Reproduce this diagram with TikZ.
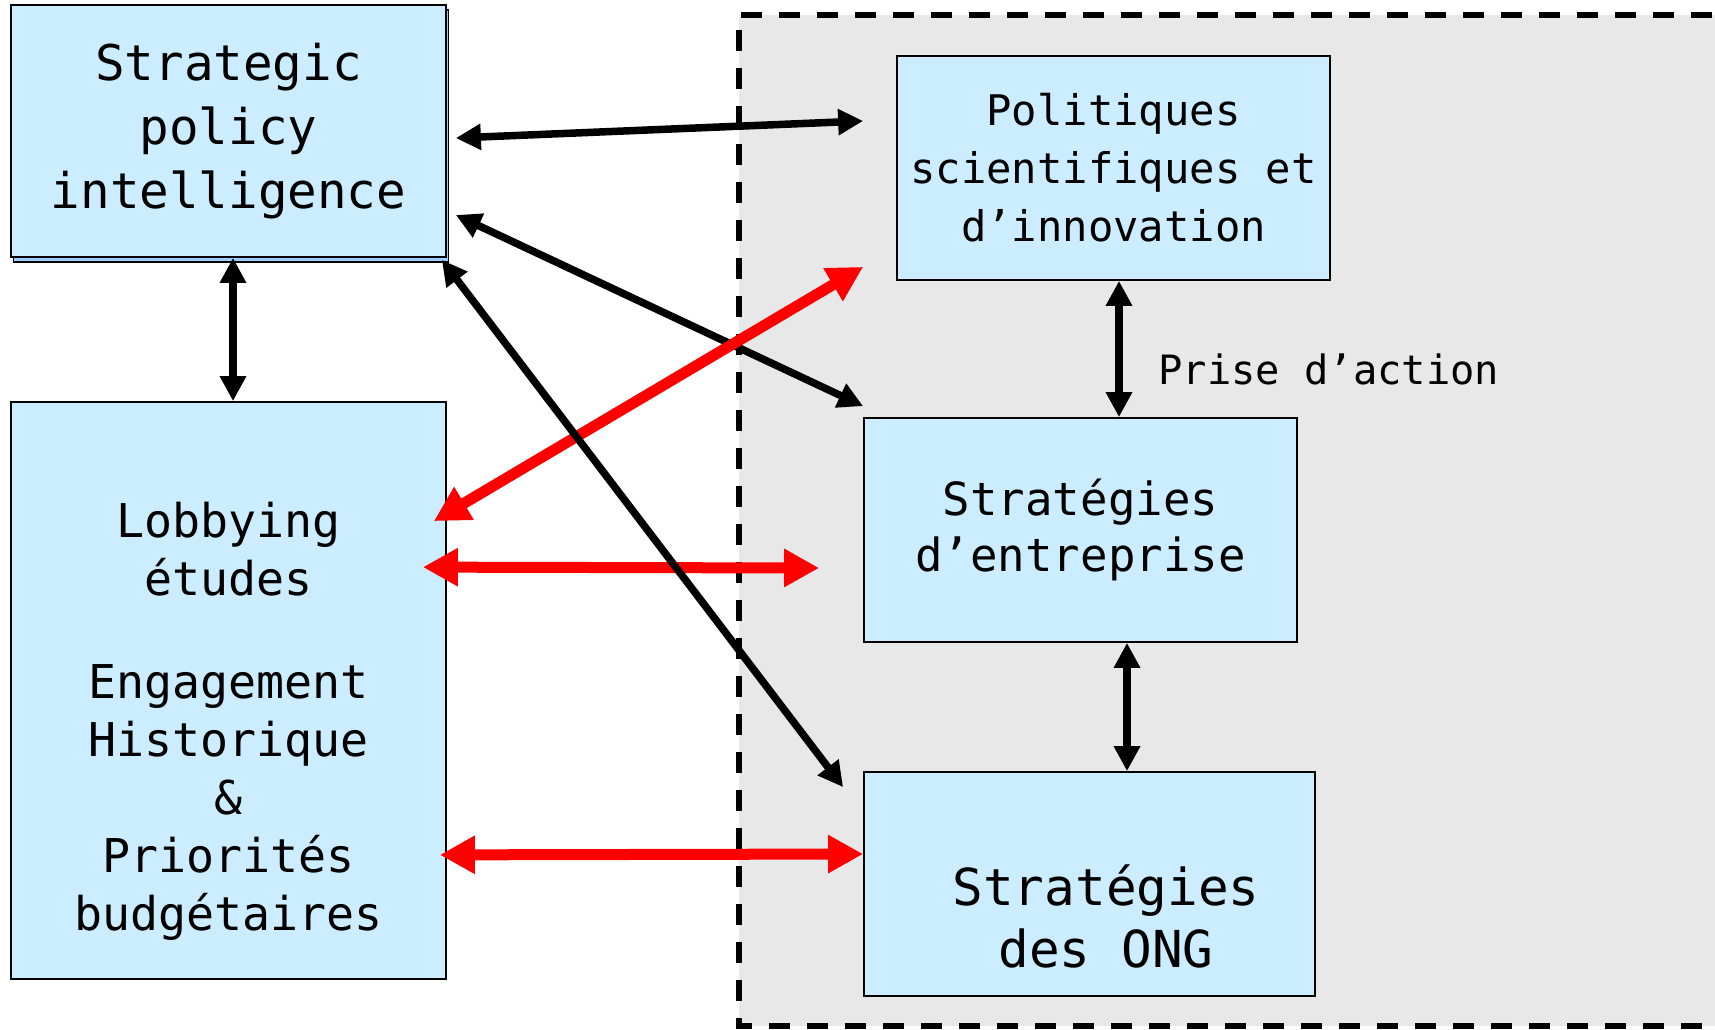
\documentclass[tikz,border=0pt]{standalone}
\usepackage{fontspec}
\newfontfamily\boxfont{DejaVu Sans Mono}
\usepackage{xcolor}
\definecolor{minimal-blue}{HTML}{CCECFF}
\definecolor{minimal-shadow}{HTML}{99CCFF}
\definecolor{minimal-grey}{HTML}{E8E8E8}
\definecolor{minimal-red}{HTML}{FF0000}
\usepackage{tikz}
\usetikzlibrary{arrows.meta, shadows, positioning}

\tikzset{
    box/.style={draw=black, line width=1pt, fill=minimal-blue, inner sep=0pt, align=center},
    blackarrow/.style={line width=0.15cm, black, <->, >={Triangle[length=0.5cm, width=0.5cm]}},
    redarrow/.style={line width=0.22cm, minimal-red, <->, >={Triangle[length=0.7cm, width=0.72cm]}}
}

\begin{document}
\begin{tikzpicture}

    \useasboundingbox (0, 0) rectangle (34.3, -20.58);

    % Background
    \fill[minimal-grey] (14.78, -0.30) rectangle (35.0, -20.52);
    \draw[line width=0.12cm, dash pattern=on 0.42cm off 0.34cm] (35.0, -0.30) -- (14.78, -0.30) -- (14.78, -20.52) -- (35.0, -20.52);

    % Left boxes
    \node[box, copy shadow={shadow xshift=0.05cm, shadow yshift=-0.1cm, fill=minimal-shadow, draw=black, line width=1pt},
          minimum width=8.70cm, minimum height=5.04cm, font=\boxfont\fontsize{28}{36.4}\selectfont]
          (spi) at (4.57, -2.62) {Strategic\\policy\\intelligence};
    \node[box, minimum width=8.70cm, minimum height=11.54cm] (lob) at (4.57, -13.81) {};
    \node[align=center, font=\boxfont\fontsize{26.5}{33}\selectfont] (lobtext) at (4.57, -14.42)
          {Lobbying\\études\\[0.9cm]Engagement\\Historique\\\&\\Priorités\\budgétaires};

    % Right boxes
    \node[box, minimum width=8.66cm, minimum height=4.48cm, font=\boxfont\fontsize{24}{33}\selectfont]
          (pol) at (22.27, -3.36) {Politiques\\scientifiques et\\d’innovation};
    \node[box, minimum width=8.66cm, minimum height=4.48cm, font=\boxfont\fontsize{26}{32.4}\selectfont]
          (ent) at (21.61, -10.60) {Stratégies\\d’entreprise};
    \node[box, minimum width=9.02cm, minimum height=4.48cm] (ong) at (21.79, -17.68) {};
    \node[align=center, font=\boxfont\fontsize{29}{35.5}\selectfont] (ongtext) at (22.12, -18.33)
          {Stratégies\\des ONG};

    % Black arrows
    \draw[blackarrow] ([shift={(0.18,-0.14)}]spi.east) -- ([shift={(-0.66,0.94)}]pol.west);
    \draw[blackarrow] ([shift={(0.18,-1.68)}]spi.east) -- ([shift={(0,0.22)}]ent.north west);
    \draw[blackarrow] ([xshift=0.09cm]spi.south) -- ([xshift=0.09cm]lob.north);
    \draw[blackarrow] ([xshift=0.11cm]pol.south) -- node[right=0.6cm, pos=0.65, font=\boxfont\fontsize{23}{25}\selectfont] (prise) {Prise d’action} ([xshift=0.11cm]pol.south |- ent.north);
    \draw[blackarrow] ([xshift=0.93cm]ent.south) -- ([xshift=0.93cm]ent.south |- ong.north);

    % Red arrows
    \draw[redarrow] ([shift={(-0.26,-2.40)}]lob.north east) -- ([shift={(-0.66,0.28)}]pol.south west);
    \draw[redarrow] ([shift={(-0.48,-3.32)}]lob.north east) -- ([shift={(-0.88,-0.76)}]ent.west);
    \draw[redarrow] ([shift={(-0.14,2.50)}]lob.south east) -- ([shift={(0,0.60)}]ong.west);

    \draw[blackarrow] ([shift={(-0.10,-0.04)}]spi.south east) -- ([shift={(-0.40,-0.32)}]ong.north west);

\end{tikzpicture}
\end{document}
